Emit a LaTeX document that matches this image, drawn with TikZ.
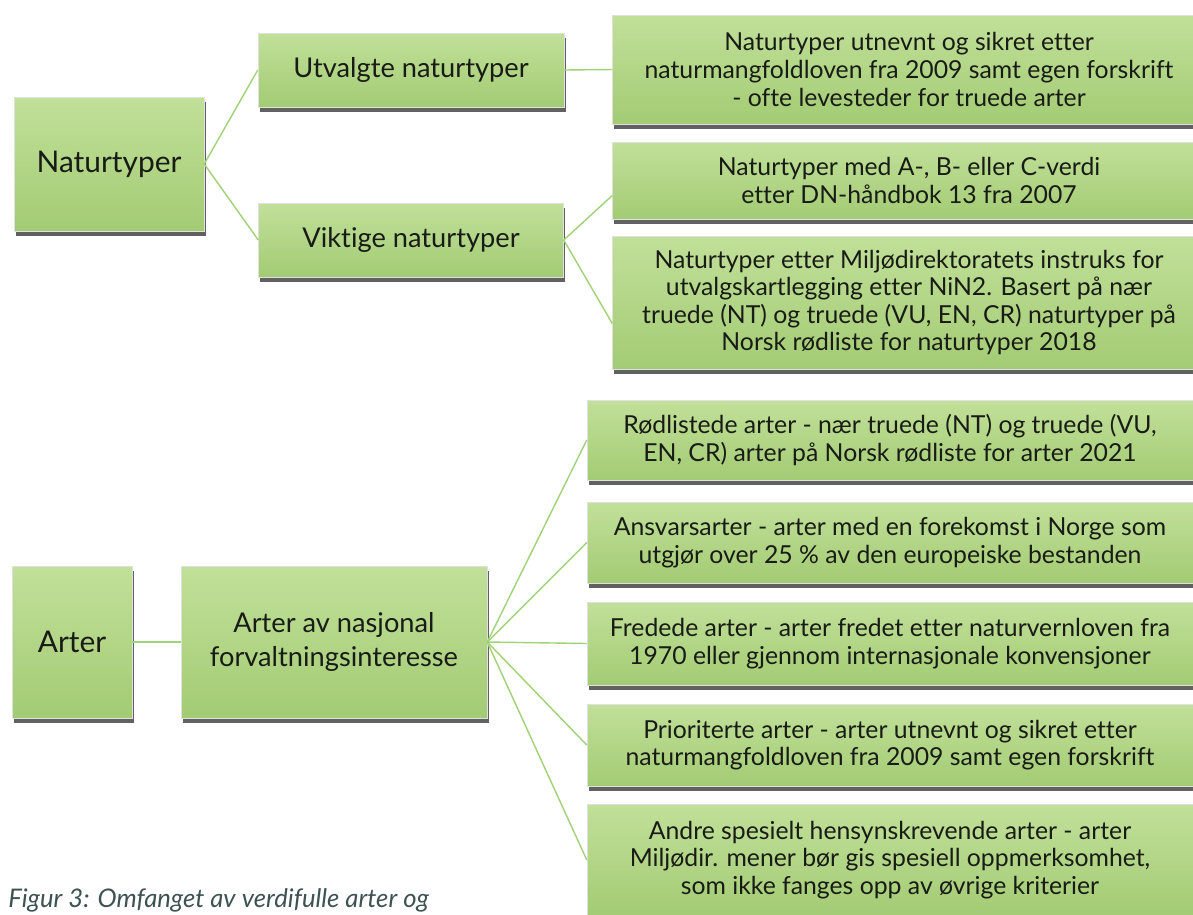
\documentclass[tikz,border=0pt]{standalone}
\usepackage{fontspec}
\setmainfont{Lato}[Ligatures=NoCommon]
\usetikzlibrary{shadows}

\definecolor{boxtop}{RGB}{193,224,153}
\definecolor{boxbottom}{RGB}{163,203,116}
\definecolor{linkgreen}{RGB}{160,210,120}
\definecolor{inktext}{RGB}{25,28,22}
\definecolor{captiontext}{RGB}{62,82,82}

\tikzset{
    box/.style={rectangle, inner sep=2pt, align=center, text=inktext,
        top color=boxtop, bottom color=boxbottom, draw=black!12, line width=0.3pt,
        drop shadow={shadow xshift=1pt, shadow yshift=-2.6pt, fill=black!62, opacity=1}},
    topbox/.style={box, font=\fontsize{17}{20}\selectfont},
    bigbox/.style={box, font=\fontsize{15.5}{19}\selectfont},
    smallbox/.style={box, font=\fontsize{14.1}{15.7}\selectfont},
    link/.style={draw=linkgreen, line width=0.8pt},
}

\begin{document}
\begin{tikzpicture}[x=0.02cm, y=-0.02cm]
    \useasboundingbox[fill=white] (0,0) rectangle (1193,914);

    % Nodes
    \node[topbox, minimum width=3.8cm, minimum height=2.68cm] (nt) at (109,164) {Naturtyper};
    \node[bigbox, minimum width=6.12cm, minimum height=1.48cm] (ut) at (411,70) {Utvalgte naturtyper};
    \node[bigbox, minimum width=6.1cm, minimum height=1.48cm] (vk) at (411,240) {Viktige naturtyper};

    \node[smallbox, minimum width=11.86cm, minimum height=2.18cm] (b1) at (909,69.5)
        {Naturtyper utnevnt og sikret etter\\naturmangfoldloven fra 2009 samt egen forskrift\\- ofte levesteder for truede arter};
    \node[smallbox, minimum width=11.86cm, minimum height=1.54cm] (b2) at (909,180.5)
        {Naturtyper med A-, B- eller C-verdi\\etter DN-håndbok 13 fra 2007};
    \node[smallbox, minimum width=11.86cm, minimum height=2.66cm] (b3) at (909,302.5)
        {Naturtyper etter Miljødirektoratets instruks for\\utvalgskartlegging etter NiN2. Basert på nær\\truede (NT) og truede (VU, EN, CR) naturtyper på\\Norsk rødliste for naturtyper 2018};

    \node[topbox, minimum width=2.4cm, minimum height=3.04cm] (ar) at (72,642) {Arter};
    \node[bigbox, minimum width=6.12cm, minimum height=3.04cm] (an) at (334,642)
        {Arter av nasjonal\\forvaltningsinteresse};

    \node[smallbox, minimum width=12.12cm, minimum height=1.6cm] (r1) at (890,440)
        {Rødlistede arter - nær truede (NT) og truede (VU,\\EN, CR) arter på Norsk rødliste for arter 2021};
    \node[smallbox, minimum width=12.12cm, minimum height=1.62cm] (r2) at (890,542.5)
        {Ansvarsarter - arter med en forekomst i Norge som\\utgjør over 25 \% av den europeiske bestanden};
    \node[smallbox, minimum width=12.12cm, minimum height=1.66cm] (r3) at (890,643.5)
        {Fredede arter - arter fredet etter naturvernloven fra\\1970 eller gjennom internasjonale konvensjoner};
    \node[smallbox, minimum width=12.12cm, minimum height=1.64cm] (r4) at (890,745)
        {Prioriterte arter - arter utnevnt og sikret etter\\naturmangfoldloven fra 2009 samt egen forskrift};
    \node[smallbox, minimum width=12.12cm, minimum height=2.24cm] (r5) at (890,860)
        {Andre spesielt hensynskrevende arter - arter\\Miljødir. mener bør gis spesiell oppmerksomhet,\\som ikke fanges opp av øvrige kriterier};

    \node[anchor=base west, inner sep=0pt, text=captiontext,
        font=\fontsize{14.6}{17}\selectfont\itshape] (cap) at (8,907)
        {Figur 3: Omfanget av verdifulle arter og};

    % Links
    \draw[link] (nt.east) -- (ut.west);
    \draw[link] (nt.east) -- (vk.west);
    \draw[link] (ut.east) -- (b1.west);
    \draw[link] (vk.east) -- ([yshift=-0.3cm]b2.west);
    \draw[link] (vk.east) -- ([yshift=-0.42cm]b3.west);
    \draw[link] (ar.east) -- (an.west);
    \foreach \r in {r1,r2,r3,r4,r5}
        \draw[link] (an.east) -- (\r.west);

\end{tikzpicture}
\end{document}
